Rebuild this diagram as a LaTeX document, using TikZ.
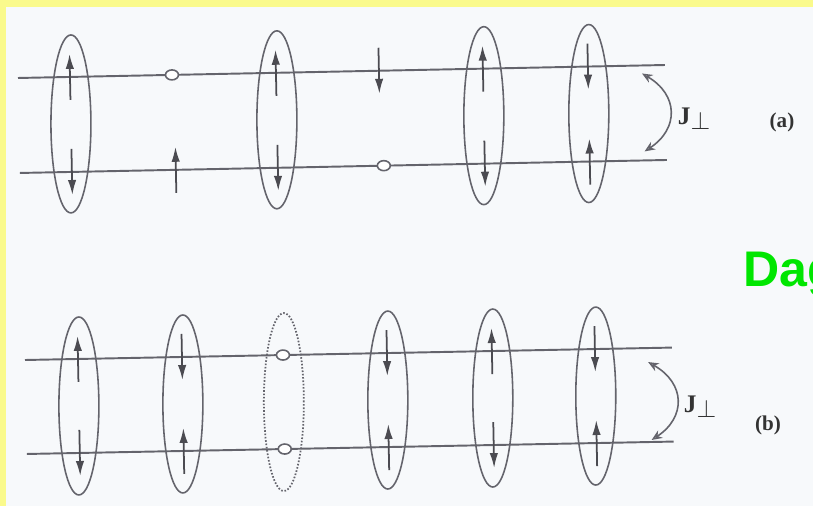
\documentclass[tikz,border=0pt]{standalone}
\usepackage{fontspec}
\setmainfont{Liberation Serif}
\setsansfont{Liberation Sans}
\usepackage{tikz}
\usetikzlibrary{arrows.meta, shapes.geometric}
\definecolor{frameyellow}{RGB}{250, 250, 140}
\definecolor{pagewhite}{RGB}{247, 249, 251}
\definecolor{inkgray}{RGB}{100, 100, 108}
\definecolor{daggreen}{RGB}{0, 230, 0}

\begin{document}
\begin{tikzpicture}[x=0.02cm, y=0.02cm,
    rail/.style={draw=inkgray, line width=1.1pt},
    rung/.style={ellipse, draw=inkgray, line width=0.9pt,
                 minimum width=0.8cm, minimum height=3.56cm, inner sep=0pt},
    emptyrung/.style={rung, densely dotted, line width=1pt},
    hole/.style={ellipse, draw=inkgray, fill=white, line width=0.9pt,
                 minimum width=0.26cm, minimum height=0.2cm, inner sep=0pt},
    spin/.style={draw=inkgray!75!black, line width=1pt,
                 -{Latex[length=8.5pt, width=4.8pt]}},
    coupling/.style={draw=inkgray, line width=0.9pt,
                 {Stealth[open, length=6pt, width=5pt]}-{Stealth[open, length=6pt, width=5pt]}},
    lbl/.style={font=\bfseries\large, text=black!80}]
  % page
  \useasboundingbox (0,0) rectangle (813,506);
  \fill[frameyellow] (0,0) rectangle (813,506);
  \fill[pagewhite] (6,0) rectangle (813,499);
  \clip (6,0) rectangle (813,499);

  % Ladder (a)
  \begin{scope}[shift={(18,428)}, rotate=1.15]
    \draw[rail] (0,0) -- (647,0);
    \draw[rail] (0,-95) -- (647,-95);
    \foreach \x/\s/\t [count=\i] in {52/1/-1, 258/1/-1, 465/1/-1, 570/-1/1} {
      \node[rung] (ra\i) at (\x,-47) {};
      \draw[spin] (\x,-23*\s) -- (\x,23*\s);
      \draw[spin] (\x,-95-23*\t) -- (\x,-95+23*\t);
    }
    \node[hole] (ha1) at (154,0) {};
    \node[hole] (ha2) at (364,-95) {};
    \draw[spin] (156,-118) -- (156,-72);
    \draw[spin] (361,23) -- (361,-23);
    \coordinate (ja1) at (624,-8);
    \coordinate (ja2) at (625,-86);
    \draw[coupling] (ja1) .. controls (660,-30) and (660,-64) .. (ja2);
  \end{scope}
  \node[lbl] (jperpa) at (694,387) {\Large J\raisebox{-0.45ex}{$\perp$}};
  \node[lbl] (taga) at (782,384) {(a)};

  % Ladder (b)
  \begin{scope}[shift={(25,146)}, rotate=1.1]
    \draw[rail] (0,0) -- (647,0);
    \draw[rail] (0,-94) -- (647,-94);
    \foreach \x/\s/\t [count=\i] in {53/1/-1, 157/-1/1, 362/-1/1, 467/1/-1, 570/-1/1} {
      \node[rung] (rb\i) at (\x,-47) {};
      \draw[spin] (\x,-23*\s) -- (\x,23*\s);
      \draw[spin] (\x,-94-23*\t) -- (\x,-94+23*\t);
    }
    \node[emptyrung] (rb0) at (258,-47) {};
    \node[hole] (hb1) at (258,0) {};
    \node[hole] (hb2) at (258,-94) {};
    \coordinate (jb1) at (623,-14);
    \coordinate (jb2) at (625,-92);
    \draw[coupling] (jb1) .. controls (660,-36) and (660,-70) .. (jb2);
  \end{scope}
  \node[lbl] (jperpb) at (700,99) {\Large J\raisebox{-0.45ex}{$\perp$}};
  \node[lbl] (tagb) at (768,81) {(b)};

  % title, cut by the page edge
  \node[anchor=base west, inner sep=0pt, text=daggreen,
        font=\sffamily\bfseries\fontsize{28.5}{30}\selectfont] (dag) at (743,219) {Dag};
\end{tikzpicture}
\end{document}
